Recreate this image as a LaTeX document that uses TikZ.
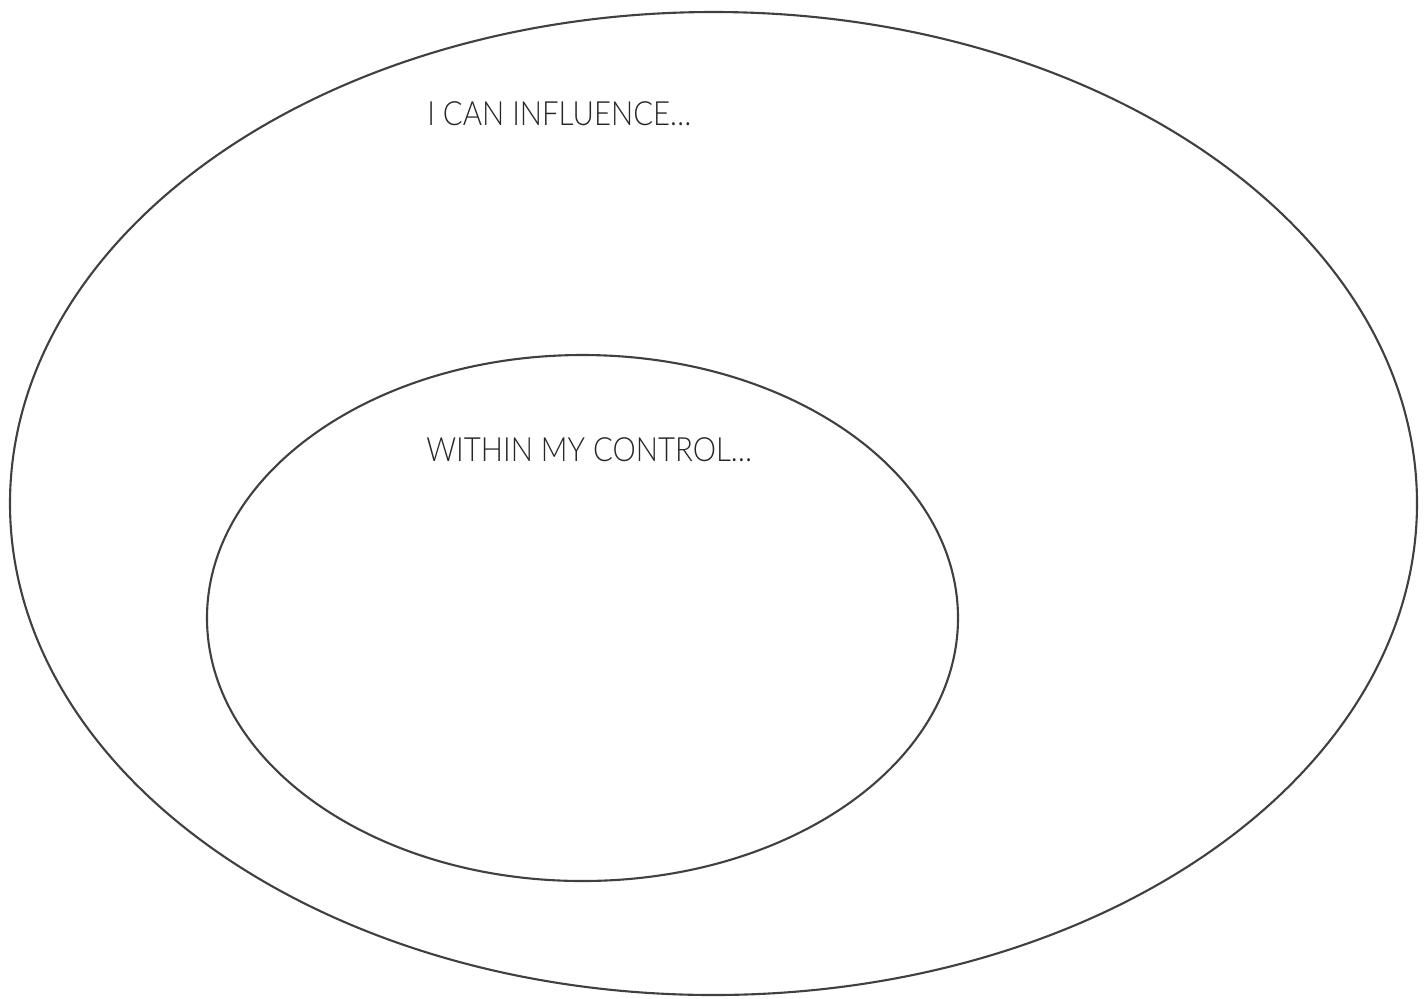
\documentclass[tikz,border=0pt]{standalone}
\usepackage{fontspec}
\newfontfamily\latolight[FakeStretch=0.88]{Lato Light}
\usetikzlibrary{shapes.geometric}

\begin{document}
\begin{tikzpicture}[
  ring/.style={draw=black!75, line width=1.2pt, ellipse, inner sep=0pt},
  lbl/.style={anchor=base west, inner sep=0pt, font=\latolight\fontsize{19}{22}\selectfont, text=black!85}
]
\useasboundingbox (0,0) rectangle (28.54,-19.96);
% outer and inner circle
\node[ring, minimum width=28.14cm, minimum height=19.66cm] (influence) at (14.27,-10.07) {};
\node[ring, minimum width=15.02cm, minimum height=10.52cm] (control) at (11.65,-12.36) {};
% labels
\node[lbl] (influencetxt) at (8.54,-2.5) {I CAN INFLUENCE\ldots};
\node[lbl] (controltxt) at (8.52,-9.22) {WITHIN MY CONTROL\ldots};
\end{tikzpicture}
\end{document}
